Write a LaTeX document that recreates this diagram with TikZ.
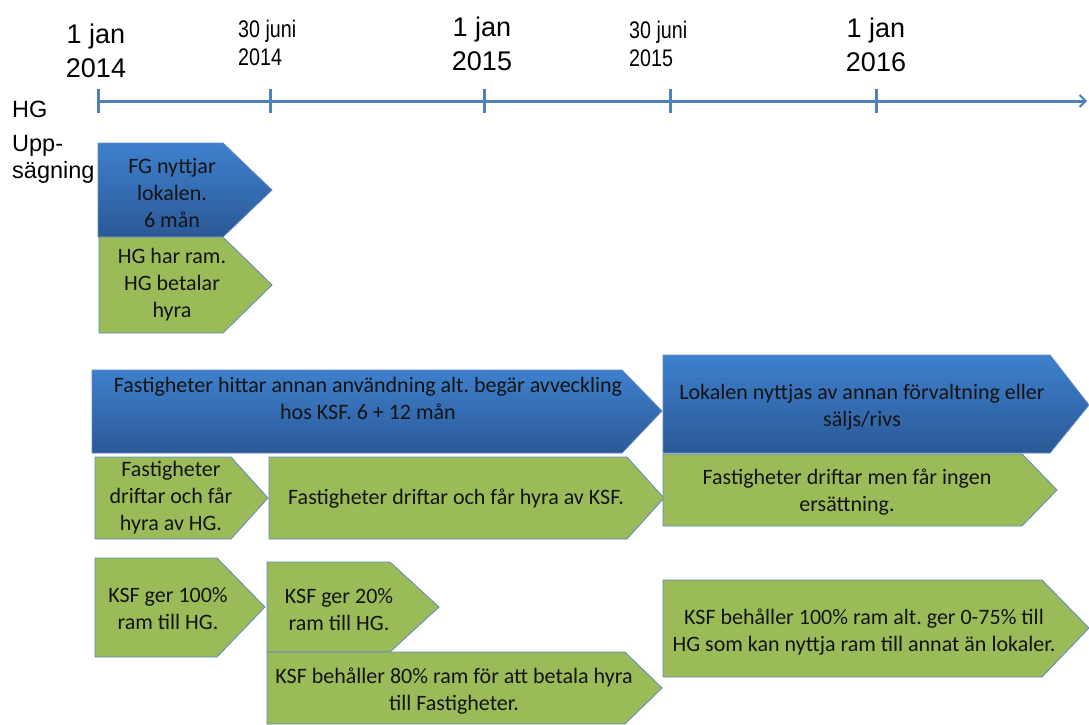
\documentclass[tikz,border=0pt]{standalone}
\usepackage{fontspec}
\setmainfont{Carlito}
\newfontfamily\arialfont{Liberation Sans}
\newfontfamily\narrowfont[FakeStretch=0.82]{Liberation Sans}
\usetikzlibrary{arrows.meta}
\frenchspacing

\definecolor{axisblue}{RGB}{79,129,189}
\definecolor{bluetop}{RGB}{62,128,205}
\definecolor{bluebot}{RGB}{43,89,150}
\definecolor{boxgreen}{RGB}{155,187,89}
\definecolor{edgeblue}{RGB}{95,135,195}

\begin{document}
\begin{tikzpicture}[x=1pt, y=-1pt,
  bluebox/.style={draw=edgeblue, line width=0.8pt, top color=bluetop, bottom color=bluebot},
  greenbox/.style={draw=edgeblue, line width=0.8pt, fill=boxgreen},
  boxtext/.style={align=center, inner sep=0pt, text=black!92, font=\fontsize{22}{27}\selectfont},
  bigdate/.style={align=center, inner sep=0pt, font=\arialfont\fontsize{27}{34}\selectfont},
  smalldate/.style={align=left, anchor=west, inner sep=0pt, font=\narrowfont\fontsize{24}{28}\selectfont}]
  \useasboundingbox (0,0) rectangle (1089,724);

  % time axis
  \coordinate (axstart) at (98,101);
  \coordinate (axend) at (1087,101);
  \draw[axisblue, line width=3pt, -{Straight Barb[length=6pt, width=12pt, line width=2pt]}] (axstart) -- (axend);
  \foreach \tx in {98,270,484,670,876}
    \draw[axisblue, line width=3pt] (\tx,89) -- (\tx,113);

  % dates
  \node[bigdate] (jan14) at (96,51) {1 jan\\2014};
  \node[smalldate] (jun14) at (238,43) {30 juni\\2014};
  \node[bigdate] (jan15) at (482,44) {1 jan\\2015};
  \node[smalldate] (jun15) at (629,44) {30 juni\\2015};
  \node[bigdate] (jan16) at (876,45) {1 jan\\2016};
  \node[align=left, anchor=north west, inner sep=0pt, font=\arialfont\fontsize{23.5}{27}\selectfont]
    (hgupp) at (12,101) {HG\\[7pt]Upp-\\sägning};

  % first half year
  \draw[bluebox] (98,143) -- (223,143) -- (272,190) -- (223,237) -- (98,237) -- cycle;
  \node[boxtext] (fgnyttjar) at (172,193) {FG nyttjar\\lokalen.\\6 mån};
  \draw[greenbox] (99,237) -- (223,237) -- (272,285) -- (223,333) -- (99,333) -- cycle;
  \node[boxtext] (hgram) at (172,285) {HG har ram.\\HG betalar\\hyra};

  % Fastigheter
  \draw[bluebox] (92,370) -- (622,370) -- (662,411) -- (622,453) -- (92,453) -- cycle;
  \node[boxtext] (fastavveck) at (368,398) {Fastigheter hittar annan användning alt. begär avveckling\\hos KSF. 6 + 12 mån};
  \draw[greenbox] (95,457) -- (231,457) -- (268,498) -- (231,539) -- (95,539) -- cycle;
  \node[boxtext] (fastdrifthg) at (171,498) {Fastigheter\\driftar och får\\hyra av HG.};
  \draw[greenbox] (269,457) -- (627,457) -- (664,498) -- (627,539) -- (269,539) -- cycle;
  \node[boxtext] (fastdriftksf) at (456,499) {Fastigheter driftar och får hyra av KSF.};
  \draw[bluebox] (663,355) -- (1050,355) -- (1089,405) -- (1050,453) -- (663,453) -- cycle;
  \node[boxtext] (lokalnytt) at (862,407) {Lokalen nyttjas av annan förvaltning eller\\säljs/rivs};
  \draw[greenbox] (663,454) -- (1022,454) -- (1057,490) -- (1022,526) -- (663,526) -- cycle;
  \node[boxtext] (fastingen) at (847,492) {Fastigheter driftar men får ingen\\ersättning.};

  % KSF ram
  \draw[greenbox] (95,558) -- (217,558) -- (265,607) -- (217,657) -- (95,657) -- cycle;
  \node[boxtext] (ksfhundra) at (168,609) {KSF ger 100\%\\ram till HG.};
  \draw[greenbox] (267,562) -- (390,562) -- (439,607) -- (390,652) -- (267,652) -- cycle;
  \node[boxtext] (ksftjugo) at (339,610) {KSF ger 20\%\\ram till HG.};
  \draw[greenbox] (267,652) -- (625,652) -- (662,688) -- (625,724) -- (267,724) -- cycle;
  \node[boxtext] (ksfattio) at (454,691) {KSF behåller 80\% ram för att betala hyra\\till Fastigheter.};
  \draw[greenbox] (663,580) -- (1042,580) -- (1089,628) -- (1042,677) -- (663,677) -- cycle;
  \node[boxtext] (ksfbehall) at (864,632) {KSF behåller 100\% ram alt. ger 0-75\% till\\HG som kan nyttja ram till annat än lokaler.};
\end{tikzpicture}
\end{document}
